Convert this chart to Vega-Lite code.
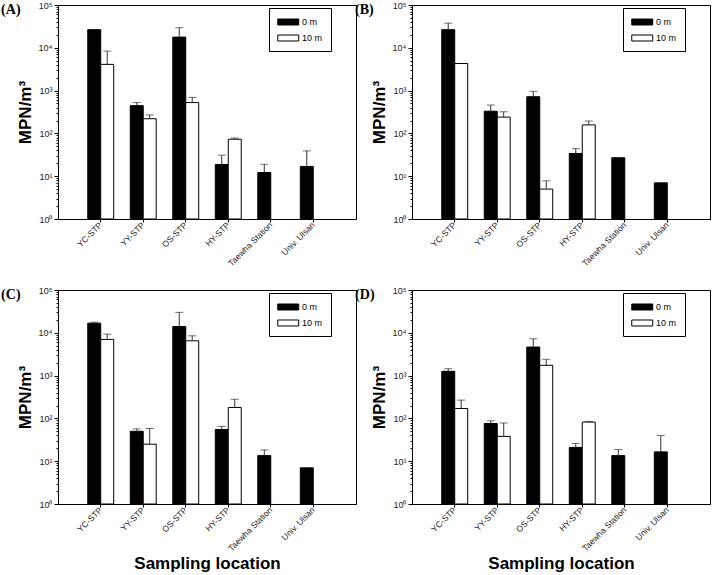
{
  "$schema": "https://vega.github.io/schema/vega-lite/v6.json",
  "padding": {"left": 0, "top": 0, "right": 0, "bottom": 0},
  "background": "white",
  "datasets": {
    "d": [
      {"panel": "A", "loc": "YC-STP", "depth": "0 m", "value": 26500, "err": null},
      {"panel": "A", "loc": "YC-STP", "depth": "10 m", "value": 4100, "err": 8400},
      {"panel": "A", "loc": "YY-STP", "depth": "0 m", "value": 445, "err": 525},
      {"panel": "A", "loc": "YY-STP", "depth": "10 m", "value": 220, "err": 270},
      {"panel": "A", "loc": "OS-STP", "depth": "0 m", "value": 17800, "err": 29500},
      {"panel": "A", "loc": "OS-STP", "depth": "10 m", "value": 525, "err": 695},
      {"panel": "A", "loc": "HY-STP", "depth": "0 m", "value": 18.8, "err": 31},
      {"panel": "A", "loc": "HY-STP", "depth": "10 m", "value": 73, "err": 78},
      {"panel": "A", "loc": "Taewha Station", "depth": "0 m", "value": 12.2, "err": 19},
      {"panel": "A", "loc": "Univ. Ulsan", "depth": "0 m", "value": 16.9, "err": 39},

      {"panel": "B", "loc": "YC-STP", "depth": "0 m", "value": 26500, "err": 37600},
      {"panel": "B", "loc": "YC-STP", "depth": "10 m", "value": 4300, "err": null},
      {"panel": "B", "loc": "YY-STP", "depth": "0 m", "value": 330, "err": 460},
      {"panel": "B", "loc": "YY-STP", "depth": "10 m", "value": 240, "err": 320},
      {"panel": "B", "loc": "OS-STP", "depth": "0 m", "value": 720, "err": 960},
      {"panel": "B", "loc": "OS-STP", "depth": "10 m", "value": 5.0, "err": 7.8},
      {"panel": "B", "loc": "HY-STP", "depth": "0 m", "value": 34, "err": 44},
      {"panel": "B", "loc": "HY-STP", "depth": "10 m", "value": 158, "err": 195},
      {"panel": "B", "loc": "Taewha Station", "depth": "0 m", "value": 27, "err": null},
      {"panel": "B", "loc": "Univ. Ulsan", "depth": "0 m", "value": 7.0, "err": null},

      {"panel": "C", "loc": "YC-STP", "depth": "0 m", "value": 16800, "err": 17700},
      {"panel": "C", "loc": "YC-STP", "depth": "10 m", "value": 7000, "err": 9300},
      {"panel": "C", "loc": "YY-STP", "depth": "0 m", "value": 50, "err": 57},
      {"panel": "C", "loc": "YY-STP", "depth": "10 m", "value": 25, "err": 58},
      {"panel": "C", "loc": "OS-STP", "depth": "0 m", "value": 14000, "err": 30000},
      {"panel": "C", "loc": "OS-STP", "depth": "10 m", "value": 6500, "err": 8500},
      {"panel": "C", "loc": "HY-STP", "depth": "0 m", "value": 55, "err": 65},
      {"panel": "C", "loc": "HY-STP", "depth": "10 m", "value": 180, "err": 280},
      {"panel": "C", "loc": "Taewha Station", "depth": "0 m", "value": 13.5, "err": 18.3},
      {"panel": "C", "loc": "Univ. Ulsan", "depth": "0 m", "value": 7.0, "err": null},

      {"panel": "D", "loc": "YC-STP", "depth": "0 m", "value": 1260, "err": 1450},
      {"panel": "D", "loc": "YC-STP", "depth": "10 m", "value": 170, "err": 268},
      {"panel": "D", "loc": "YY-STP", "depth": "0 m", "value": 76, "err": 88},
      {"panel": "D", "loc": "YY-STP", "depth": "10 m", "value": 38, "err": 78},
      {"panel": "D", "loc": "OS-STP", "depth": "0 m", "value": 4650, "err": 7250},
      {"panel": "D", "loc": "OS-STP", "depth": "10 m", "value": 1740, "err": 2400},
      {"panel": "D", "loc": "HY-STP", "depth": "0 m", "value": 21, "err": 26},
      {"panel": "D", "loc": "HY-STP", "depth": "10 m", "value": 82, "err": 85},
      {"panel": "D", "loc": "Taewha Station", "depth": "0 m", "value": 13.5, "err": 18.7},
      {"panel": "D", "loc": "Univ. Ulsan", "depth": "0 m", "value": 16.5, "err": 40}
    ]
  },
  "data": {"name": "d"},
  "vconcat": [
    {
      "hconcat": [
        {
          "width": 298, "height": 214,
          "title": {"text": "(A)"},
          "transform": [{"filter": "datum.panel == 'A'"}],
          "encoding": {
            "x": {"field": "loc", "type": "nominal", "sort": ["YC-STP", "YY-STP", "OS-STP", "HY-STP", "Taewha Station", "Univ. Ulsan"], "scale": {"paddingInner": 0.39, "paddingOuter": 0.7}, "axis": {"title": null}},
            "xOffset": {"field": "depth", "type": "nominal", "sort": ["0 m", "10 m"]}
          },
          "layer": [
            {
              "mark": {"type": "bar", "stroke": "black", "strokeWidth": 1},
              "encoding": {
                "y": {"field": "value", "type": "quantitative", "scale": {"type": "log", "domain": [1, 100000]},
                  "axis": {"title": "MPN/m³", "values": [1,2,3,4,5,6,7,8,9,10,20,30,40,50,60,70,80,90,100,200,300,400,500,600,700,800,900,1000,2000,3000,4000,5000,6000,7000,8000,9000,10000,20000,30000,40000,50000,60000,70000,80000,90000,100000],
                    "labelExpr": "indexof([1,10,100,1000,10000,100000], datum.value) >= 0 ? '10' + ['⁰','¹','²','³','⁴','⁵'][indexof([1,10,100,1000,10000,100000], datum.value)] : ''",
                    "tickSize": {"condition": {"test": "indexof([1,10,100,1000,10000,100000], datum.value) < 0", "value": 2}, "value": 4}}},
                "y2": {"datum": 1},
                "fill": {"field": "depth", "type": "nominal", "scale": {"domain": ["0 m", "10 m"], "range": ["black", "white"]}}
              }
            },
            {
              "transform": [{"filter": "isValid(datum.err)"}],
              "mark": {"type": "rule", "color": "#333", "strokeWidth": 1},
              "encoding": {"y": {"field": "value", "type": "quantitative"}, "y2": {"field": "err"}}
            },
            {
              "transform": [{"filter": "isValid(datum.err)"}],
              "mark": {"type": "tick", "color": "#333", "size": 8, "thickness": 1},
              "encoding": {"y": {"field": "err", "type": "quantitative"}}
            }
          ]
        },
        {
          "width": 298, "height": 214,
          "title": {"text": "(B)"},
          "transform": [{"filter": "datum.panel == 'B'"}],
          "encoding": {
            "x": {"field": "loc", "type": "nominal", "sort": ["YC-STP", "YY-STP", "OS-STP", "HY-STP", "Taewha Station", "Univ. Ulsan"], "scale": {"paddingInner": 0.39, "paddingOuter": 0.7}, "axis": {"title": null}},
            "xOffset": {"field": "depth", "type": "nominal", "sort": ["0 m", "10 m"]}
          },
          "layer": [
            {
              "mark": {"type": "bar", "stroke": "black", "strokeWidth": 1},
              "encoding": {
                "y": {"field": "value", "type": "quantitative", "scale": {"type": "log", "domain": [1, 100000]},
                  "axis": {"title": "MPN/m³", "values": [1,2,3,4,5,6,7,8,9,10,20,30,40,50,60,70,80,90,100,200,300,400,500,600,700,800,900,1000,2000,3000,4000,5000,6000,7000,8000,9000,10000,20000,30000,40000,50000,60000,70000,80000,90000,100000],
                    "labelExpr": "indexof([1,10,100,1000,10000,100000], datum.value) >= 0 ? '10' + ['⁰','¹','²','³','⁴','⁵'][indexof([1,10,100,1000,10000,100000], datum.value)] : ''",
                    "tickSize": {"condition": {"test": "indexof([1,10,100,1000,10000,100000], datum.value) < 0", "value": 2}, "value": 4}}},
                "y2": {"datum": 1},
                "fill": {"field": "depth", "type": "nominal", "scale": {"domain": ["0 m", "10 m"], "range": ["black", "white"]}}
              }
            },
            {
              "transform": [{"filter": "isValid(datum.err)"}],
              "mark": {"type": "rule", "color": "#333", "strokeWidth": 1},
              "encoding": {"y": {"field": "value", "type": "quantitative"}, "y2": {"field": "err"}}
            },
            {
              "transform": [{"filter": "isValid(datum.err)"}],
              "mark": {"type": "tick", "color": "#333", "size": 8, "thickness": 1},
              "encoding": {"y": {"field": "err", "type": "quantitative"}}
            }
          ]
        }
      ],
      "spacing": -3,
      "resolve": {"legend": {"fill": "independent"}}
    },
    {
      "hconcat": [
        {
          "width": 298, "height": 214,
          "title": {"text": "(C)"},
          "transform": [{"filter": "datum.panel == 'C'"}],
          "encoding": {
            "x": {"field": "loc", "type": "nominal", "sort": ["YC-STP", "YY-STP", "OS-STP", "HY-STP", "Taewha Station", "Univ. Ulsan"], "scale": {"paddingInner": 0.39, "paddingOuter": 0.7}, "axis": {"title": "Sampling location"}},
            "xOffset": {"field": "depth", "type": "nominal", "sort": ["0 m", "10 m"]}
          },
          "layer": [
            {
              "mark": {"type": "bar", "stroke": "black", "strokeWidth": 1},
              "encoding": {
                "y": {"field": "value", "type": "quantitative", "scale": {"type": "log", "domain": [1, 100000]},
                  "axis": {"title": "MPN/m³", "values": [1,2,3,4,5,6,7,8,9,10,20,30,40,50,60,70,80,90,100,200,300,400,500,600,700,800,900,1000,2000,3000,4000,5000,6000,7000,8000,9000,10000,20000,30000,40000,50000,60000,70000,80000,90000,100000],
                    "labelExpr": "indexof([1,10,100,1000,10000,100000], datum.value) >= 0 ? '10' + ['⁰','¹','²','³','⁴','⁵'][indexof([1,10,100,1000,10000,100000], datum.value)] : ''",
                    "tickSize": {"condition": {"test": "indexof([1,10,100,1000,10000,100000], datum.value) < 0", "value": 2}, "value": 4}}},
                "y2": {"datum": 1},
                "fill": {"field": "depth", "type": "nominal", "scale": {"domain": ["0 m", "10 m"], "range": ["black", "white"]}}
              }
            },
            {
              "transform": [{"filter": "isValid(datum.err)"}],
              "mark": {"type": "rule", "color": "#333", "strokeWidth": 1},
              "encoding": {"y": {"field": "value", "type": "quantitative"}, "y2": {"field": "err"}}
            },
            {
              "transform": [{"filter": "isValid(datum.err)"}],
              "mark": {"type": "tick", "color": "#333", "size": 8, "thickness": 1},
              "encoding": {"y": {"field": "err", "type": "quantitative"}}
            }
          ]
        },
        {
          "width": 298, "height": 214,
          "title": {"text": "(D)"},
          "transform": [{"filter": "datum.panel == 'D'"}],
          "encoding": {
            "x": {"field": "loc", "type": "nominal", "sort": ["YC-STP", "YY-STP", "OS-STP", "HY-STP", "Taewha Station", "Univ. Ulsan"], "scale": {"paddingInner": 0.39, "paddingOuter": 0.7}, "axis": {"title": "Sampling location"}},
            "xOffset": {"field": "depth", "type": "nominal", "sort": ["0 m", "10 m"]}
          },
          "layer": [
            {
              "mark": {"type": "bar", "stroke": "black", "strokeWidth": 1},
              "encoding": {
                "y": {"field": "value", "type": "quantitative", "scale": {"type": "log", "domain": [1, 100000]},
                  "axis": {"title": "MPN/m³", "values": [1,2,3,4,5,6,7,8,9,10,20,30,40,50,60,70,80,90,100,200,300,400,500,600,700,800,900,1000,2000,3000,4000,5000,6000,7000,8000,9000,10000,20000,30000,40000,50000,60000,70000,80000,90000,100000],
                    "labelExpr": "indexof([1,10,100,1000,10000,100000], datum.value) >= 0 ? '10' + ['⁰','¹','²','³','⁴','⁵'][indexof([1,10,100,1000,10000,100000], datum.value)] : ''",
                    "tickSize": {"condition": {"test": "indexof([1,10,100,1000,10000,100000], datum.value) < 0", "value": 2}, "value": 4}}},
                "y2": {"datum": 1},
                "fill": {"field": "depth", "type": "nominal", "scale": {"domain": ["0 m", "10 m"], "range": ["black", "white"]}}
              }
            },
            {
              "transform": [{"filter": "isValid(datum.err)"}],
              "mark": {"type": "rule", "color": "#333", "strokeWidth": 1},
              "encoding": {"y": {"field": "value", "type": "quantitative"}, "y2": {"field": "err"}}
            },
            {
              "transform": [{"filter": "isValid(datum.err)"}],
              "mark": {"type": "tick", "color": "#333", "size": 8, "thickness": 1},
              "encoding": {"y": {"field": "err", "type": "quantitative"}}
            }
          ]
        }
      ],
      "spacing": -3,
      "resolve": {"legend": {"fill": "independent"}}
    }
  ],
  "spacing": 17,
  "resolve": {"legend": {"fill": "independent"}},
  "config": {
    "view": {"stroke": "black", "strokeWidth": 1},
    "axis": {"domainColor": "black", "tickColor": "black", "labelFont": "Liberation Sans", "labelFontSize": 9, "labelColor": "#222", "titleFont": "Liberation Sans", "titleFontWeight": "bold", "titleFontSize": 17, "titleColor": "black", "grid": false},
    "axisY": {"labelOverlap": false, "labelFlush": false, "labelPadding": 2, "titlePadding": 4},
    "axisX": {"labelAngle": 315, "labelAlign": "right", "labelBaseline": "middle", "labelFontSize": 8.5, "tickSize": 3, "labelPadding": 1, "titlePadding": 3},
    "legend": {"orient": "none", "legendX": 211, "legendY": 3, "title": null, "strokeColor": "black", "fillColor": "white", "padding": 8, "symbolType": "M-1,-0.57H3V0.57H-1Z", "symbolSize": 110, "symbolStrokeColor": "black", "symbolStrokeWidth": 1, "labelFont": "Liberation Sans", "labelFontSize": 9, "labelOffset": 13, "rowPadding": 5},
    "title": {"font": "Liberation Serif", "fontSize": 14, "fontWeight": "bold", "anchor": "start", "frame": "bounds", "baseline": "top", "offset": 0, "dy": 20, "dx": -15, "color": "black"}
  }
}
